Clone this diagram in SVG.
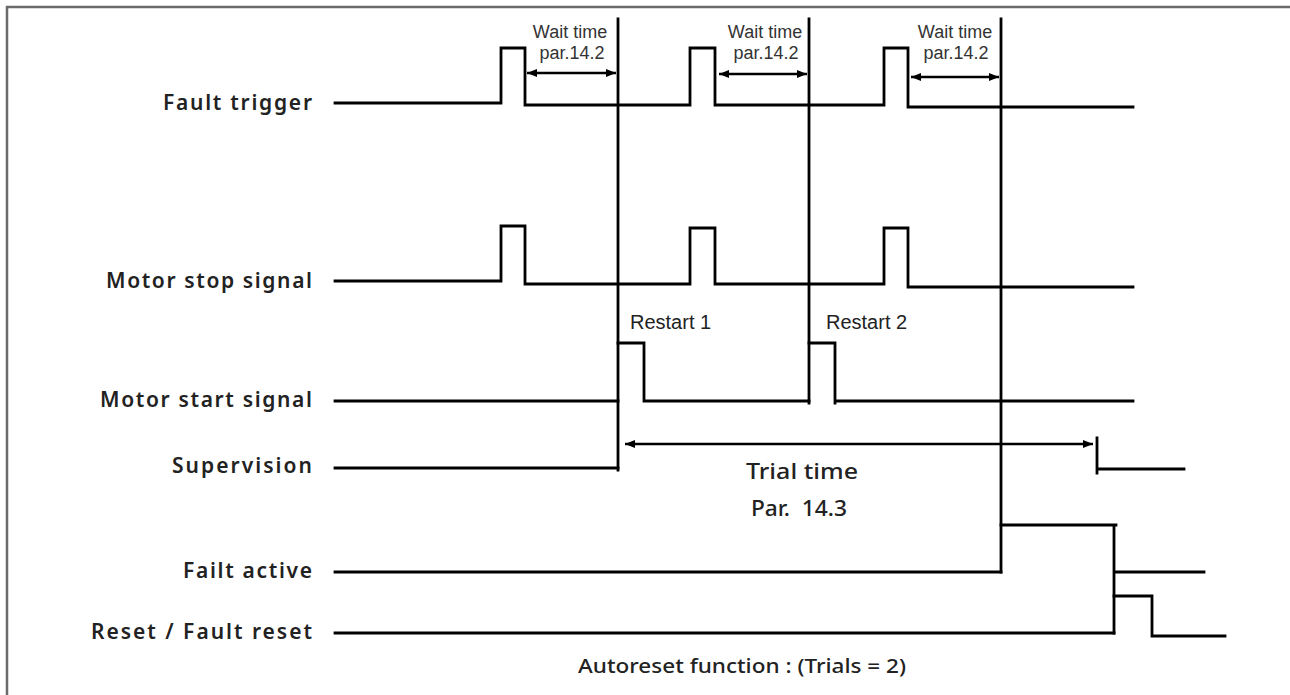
<svg xmlns="http://www.w3.org/2000/svg" width="1290" height="695" viewBox="0 0 1290 695">
  <style>
    .sig { fill: none; stroke: #000; stroke-width: 2.8; stroke-linecap: square; stroke-linejoin: miter; }
    .dim { fill: none; stroke: #000; stroke-width: 2.4; }
    .lbl { font-family: "Noto Sans", "DejaVu Sans", sans-serif; font-weight: 600; font-size: 21px; fill: #222; text-anchor: end; }
    .sm { font-family: "Liberation Sans", Arial, sans-serif; font-size: 18px; fill: #333; text-anchor: middle; }
    .rs { font-family: "Liberation Sans", Arial, sans-serif; font-size: 20px; fill: #222; }
    .din { font-family: "Noto Sans", "DejaVu Sans", sans-serif; font-weight: 500; font-size: 22px; fill: #222; text-anchor: middle; }
    .foot { font-family: "Noto Sans", "DejaVu Sans", sans-serif; font-weight: 500; font-size: 20px; fill: #222; text-anchor: middle; }
  </style>
  <defs>
    <marker id="ah" markerUnits="userSpaceOnUse" markerWidth="12" markerHeight="10" refX="10" refY="4" orient="auto-start-reverse">
      <path d="M0,0 L10,4 L0,8 Z" fill="#000"/>
    </marker>
  </defs>
  <rect width="1290" height="695" fill="#fff"/>
  <path d="M7,695 V7 H1290" fill="none" stroke="#6b6b6b" stroke-width="2.5"/>

  <g id="labels">
    <text id="lbl-fault-trigger" class="lbl" x="312" y="110" textLength="149" lengthAdjust="spacing">Fault trigger</text>
    <text id="lbl-motor-stop" class="lbl" x="312" y="288" textLength="206" lengthAdjust="spacing">Motor stop signal</text>
    <text id="lbl-motor-start" class="lbl" x="312" y="407" textLength="212" lengthAdjust="spacing">Motor start signal</text>
    <text id="lbl-supervision" class="lbl" x="312" y="473" textLength="140" lengthAdjust="spacing">Supervision</text>
    <text id="lbl-failt-active" class="lbl" x="312" y="578" textLength="129" lengthAdjust="spacing">Failt active</text>
    <text id="lbl-reset" class="lbl" x="312" y="639" textLength="221" lengthAdjust="spacing">Reset / Fault reset</text>
  </g>

  <g id="connectors">
    <path class="sig" d="M335,103 H501 V48 H525 V105 H690 V48 H715 V105 H884 V48 H908 V107 H1133"/>
    <path class="sig" d="M335,281 H501 V226 H525 V284 H690 V228 H715 V284 H884 V228 H908 V287 H1133"/>
    <path class="sig" d="M335,401 H618"/>
    <path class="sig" d="M618,343 H644 V401 H809"/>
    <path class="sig" d="M809,343 H835 V403 M835,401 H1133"/>
    <path class="sig" d="M335,468 H618"/>
    <path class="sig" d="M1097,438 V473 M1097,469 H1184"/>
    <path class="sig" d="M335,572 H1001"/>
    <path class="sig" d="M1001,525 H1116 M1114,525 V633 M1114,572 H1204"/>
    <path class="sig" d="M335,633 H1114 M1114,596 H1152 V636 H1225"/>
    <path class="sig" d="M618,19 V470"/>
    <path class="sig" d="M809,19 V403"/>
    <path class="sig" d="M1001,19 V572"/>
    <path class="dim" d="M527,73 H616" marker-start="url(#ah)" marker-end="url(#ah)"/>
    <path class="dim" d="M719,74 H807" marker-start="url(#ah)" marker-end="url(#ah)"/>
    <path class="dim" d="M911,77 H999" marker-start="url(#ah)" marker-end="url(#ah)"/>
    <path class="dim" d="M625,444 H1093" marker-start="url(#ah)" marker-end="url(#ah)"/>
  </g>

  <g id="annotations">
    <text class="sm" x="570" y="38">Wait time</text>
    <text class="sm" x="572" y="59">par.14.2</text>
    <text class="sm" x="765" y="38">Wait time</text>
    <text class="sm" x="766" y="59">par.14.2</text>
    <text class="sm" x="955" y="38">Wait time</text>
    <text class="sm" x="956" y="59">par.14.2</text>
    <text class="rs" x="630" y="329">Restart 1</text>
    <text class="rs" x="826" y="329">Restart 2</text>
    <text class="din" x="802" y="479" textLength="112" lengthAdjust="spacingAndGlyphs">Trial time</text>
    <text class="din" x="799" y="516" textLength="96" lengthAdjust="spacingAndGlyphs" xml:space="preserve">Par.  14.3</text>
    <text class="foot" x="742" y="673" textLength="328" lengthAdjust="spacingAndGlyphs">Autoreset function : (Trials = 2)</text>
  </g>
</svg>
